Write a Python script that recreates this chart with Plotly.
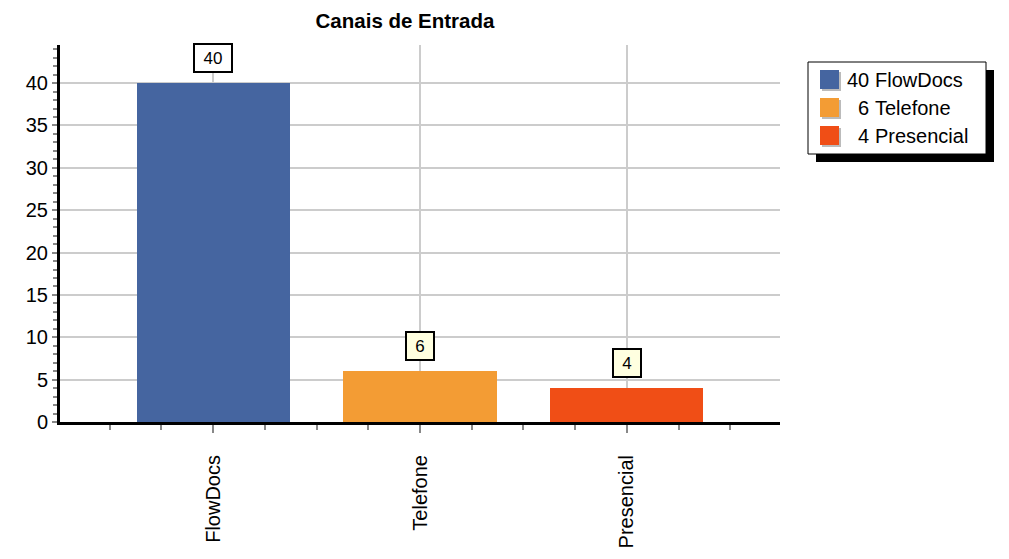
import plotly.graph_objects as go

categories = ["FlowDocs", "Telefone", "Presencial"]
values = [40, 6, 4]
colors = ["#4565A0", "#F39C34", "#F04E16"]
label_bg = ["#FFFFFF", "#FFFFE0", "#FFFFE0"]
title = "Canais de Entrada"
y_ticks = [0, 5, 10, 15, 20, 25, 30, 35, 40]

FONT = "Arial, Liberation Sans, sans-serif"
idx = list(range(len(categories)))
OFF = 8  # browser body margin

fig = go.Figure()
fig.add_trace(go.Bar(
    x=idx, y=values, width=0.74,
    marker=dict(color=colors, line=dict(width=0)),
    showlegend=False, hoverinfo="skip",
))

annotations = []
for i, v in enumerate(values):
    t = str(v)
    annotations.append(dict(
        x=i, y=v, xref="x", yref="y", text=t, showarrow=False,
        yshift=25, yanchor="middle", xanchor="center",
        font=dict(family=FONT, size=17, color="black"),
        bgcolor=label_bg[i], bordercolor="black", borderwidth=2, borderpad=4,
        width=10 * len(t) + 8, height=18,
    ))

shapes = []
shapes.append(dict(type="rect", xref="paper", yref="paper", xsizemode="pixel", ysizemode="pixel",
                   xanchor=1, yanchor=1, x0=36, x1=214, y0=-117, y1=-25,
                   fillcolor="black", line=dict(width=0), layer="above"))
shapes.append(dict(type="rect", xref="paper", yref="paper", xsizemode="pixel", ysizemode="pixel",
                   xanchor=1, yanchor=1, x0=28, x1=206, y0=-109, y1=-17,
                   fillcolor="white", line=dict(color="black", width=1), layer="above"))
for i, (c, v) in enumerate(zip(categories, values)):
    cy = -34.5 - 28 * i
    shapes.append(dict(type="rect", xref="paper", yref="paper", xsizemode="pixel", ysizemode="pixel",
                       xanchor=1, yanchor=1, x0=42, x1=61, y0=cy - 11.5, y1=cy + 7.5,
                       fillcolor="#BBBBBB", line=dict(width=0), layer="above"))
    shapes.append(dict(type="rect", xref="paper", yref="paper", xsizemode="pixel", ysizemode="pixel",
                       xanchor=1, yanchor=1, x0=40, x1=59, y0=cy - 9.5, y1=cy + 9.5,
                       fillcolor=colors[i], line=dict(width=0), layer="above"))
    annotations.append(dict(x=1, y=1, xref="paper", yref="paper", xshift=91, yshift=cy,
                            text=str(v), showarrow=False, xanchor="right", yanchor="middle",
                            font=dict(family=FONT, size=20, color="black")))
    annotations.append(dict(x=1, y=1, xref="paper", yref="paper", xshift=93, yshift=cy,
                            text=c, showarrow=False, xanchor="left", yanchor="middle",
                            font=dict(family=FONT, size=20, color="black")))

fig.update_layout(
    width=1009, height=559,
    margin=dict(l=60 - OFF, r=229 + OFF, t=45 - OFF, b=137 + OFF),
    paper_bgcolor="white", plot_bgcolor="white",
    title=dict(text="<b>" + title + "</b>", x=(405 - OFF) / 1009, xref="container", xanchor="center",
               y=1 - (21 - OFF) / 559, yanchor="middle",
               font=dict(family=FONT, size=20.5, color="black")),
    font=dict(family=FONT, size=16, color="black"),
    annotations=annotations, shapes=shapes,
    bargap=0,
)
fig.update_xaxes(
    range=[-0.74, 2.74], tickmode="array", tickvals=idx, ticktext=categories,
    tickangle=-90, tickfont=dict(family=FONT, size=20, color="black"),
    ticks="outside", ticklen=8, tickwidth=2, tickcolor="#888888",
    ticklabelstandoff=14,
    showgrid=True, gridcolor="#CCCCCC", gridwidth=1.5,
    showline=True, linecolor="black", linewidth=3, zeroline=False,
    minor=dict(tick0=0, dtick=0.25, ticks="outside", ticklen=5, tickwidth=2,
               tickcolor="#888888", showgrid=False),
)
fig.update_yaxes(
    range=[0, 44.5], tickmode="array", tickvals=y_ticks,
    tickfont=dict(family=FONT, size=20, color="black"),
    ticks="outside", ticklen=5, tickwidth=2, tickcolor="#888888",
    showgrid=True, gridcolor="#CCCCCC", gridwidth=1.5,
    showline=True, linecolor="black", linewidth=3, zeroline=False,
    minor=dict(tick0=0, dtick=1, ticks="outside", ticklen=4, tickwidth=2,
               tickcolor="#888888", showgrid=False),
)

fig.write_html("out.html")
